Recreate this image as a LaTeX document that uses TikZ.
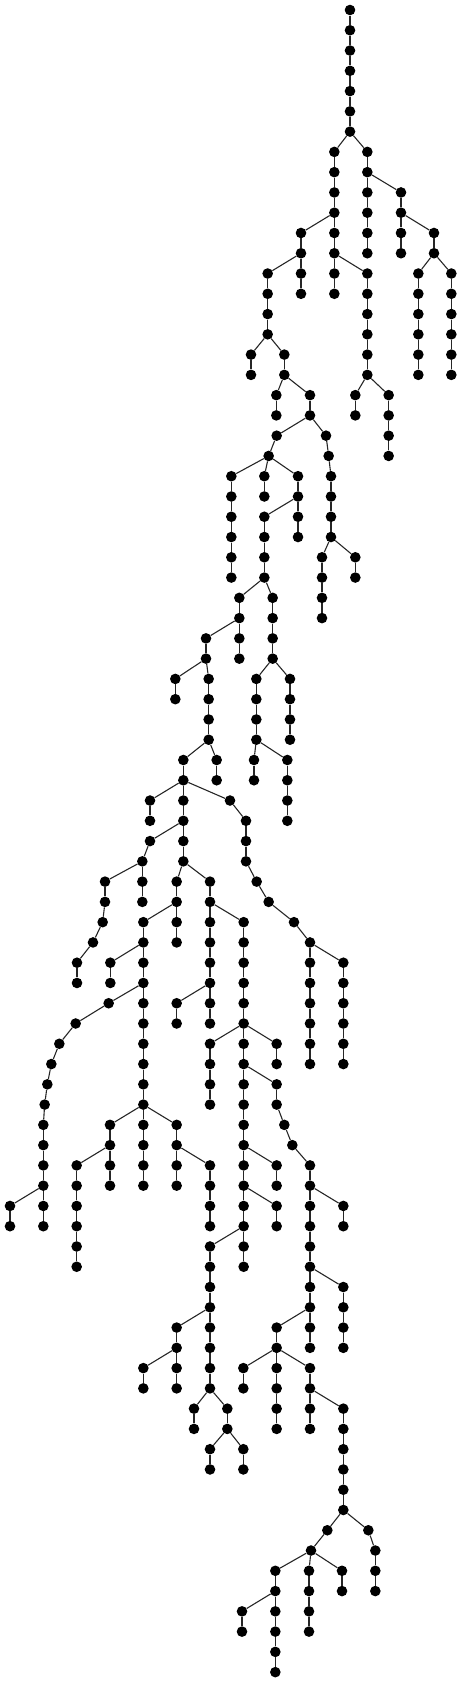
\documentclass[tikz,border=0pt]{standalone}
\tikzset{dot/.style={circle,fill=black,draw=none,inner sep=0pt,minimum size=10.6pt},
 edge/.style={line width=1.1pt,black!85}}
\newcommand\kid[4]{\node[dot] (n#1x#2) at ({#2/3},{10+20.27*#1}) {};\draw[edge] (n#3x#4) -- (n#1x#2);}
\begin{document}
\begin{tikzpicture}[x=1pt,y=-1pt]
\useasboundingbox (0,0) rectangle (462,1682);
\node[dot] (n0x1050) at ({1050/3},10) {};
\kid{1}{1050}{0}{1050}
\kid{2}{1050}{1}{1050}
\kid{3}{1050}{2}{1050}
\kid{4}{1050}{3}{1050}
\kid{5}{1050}{4}{1050}
\kid{6}{1050}{5}{1050}
\kid{7}{1003}{6}{1050}\kid{7}{1102}{6}{1050}
\kid{8}{1003}{7}{1003}\kid{8}{1102}{7}{1102}
\kid{9}{1003}{8}{1003}\kid{9}{1102}{8}{1102}\kid{9}{1203}{8}{1102}
\kid{10}{1003}{9}{1003}\kid{10}{1102}{9}{1102}\kid{10}{1203}{9}{1203}
\kid{11}{903}{10}{1003}\kid{11}{1003}{10}{1003}\kid{11}{1102}{10}{1102}\kid{11}{1203}{10}{1203}\kid{11}{1302}{10}{1203}
\kid{12}{903}{11}{903}\kid{12}{1003}{11}{1003}\kid{12}{1102}{11}{1102}\kid{12}{1203}{11}{1203}\kid{12}{1302}{11}{1302}
\kid{13}{803}{12}{903}\kid{13}{903}{12}{903}\kid{13}{1003}{12}{1003}\kid{13}{1102}{12}{1003}\kid{13}{1255}{12}{1302}\kid{13}{1354}{12}{1302}
\kid{14}{803}{13}{803}\kid{14}{903}{13}{903}\kid{14}{1003}{13}{1003}\kid{14}{1102}{13}{1102}\kid{14}{1255}{13}{1255}\kid{14}{1354}{13}{1354}
\kid{15}{803}{14}{803}\kid{15}{1102}{14}{1102}\kid{15}{1255}{14}{1255}\kid{15}{1354}{14}{1354}
\kid{16}{803}{15}{803}\kid{16}{1102}{15}{1102}\kid{16}{1255}{15}{1255}\kid{16}{1354}{15}{1354}
\kid{17}{753}{16}{803}\kid{17}{853}{16}{803}\kid{17}{1102}{16}{1102}\kid{17}{1255}{16}{1255}\kid{17}{1354}{16}{1354}
\kid{18}{753}{17}{753}\kid{18}{853}{17}{853}\kid{18}{1102}{17}{1102}\kid{18}{1255}{17}{1255}\kid{18}{1354}{17}{1354}
\kid{19}{829}{18}{853}\kid{19}{930}{18}{853}\kid{19}{1066}{18}{1102}\kid{19}{1166}{18}{1102}
\kid{20}{829}{19}{829}\kid{20}{930}{19}{930}\kid{20}{1066}{19}{1066}\kid{20}{1166}{19}{1166}
\kid{21}{830}{20}{930}\kid{21}{978}{20}{930}\kid{21}{1166}{20}{1166}
\kid{22}{806}{21}{830}\kid{22}{986}{21}{978}\kid{22}{1166}{21}{1166}
\kid{23}{694}{22}{806}\kid{23}{793}{22}{806}\kid{23}{894}{22}{806}\kid{23}{993}{22}{986}
\kid{24}{694}{23}{694}\kid{24}{793}{23}{793}\kid{24}{894}{23}{894}\kid{24}{993}{23}{993}
\kid{25}{694}{24}{694}\kid{25}{793}{24}{894}\kid{25}{894}{24}{894}\kid{25}{993}{24}{993}
\kid{26}{694}{25}{694}\kid{26}{793}{25}{793}\kid{26}{894}{25}{894}\kid{26}{993}{25}{993}
\kid{27}{694}{26}{694}\kid{27}{793}{26}{793}\kid{27}{966}{26}{993}\kid{27}{1066}{26}{993}
\kid{28}{694}{27}{694}\kid{28}{793}{27}{793}\kid{28}{966}{27}{966}\kid{28}{1066}{27}{1066}
\kid{29}{718}{28}{793}\kid{29}{818}{28}{793}\kid{29}{966}{28}{966}
\kid{30}{718}{29}{718}\kid{30}{818}{29}{818}\kid{30}{966}{29}{966}
\kid{31}{618}{30}{718}\kid{31}{718}{30}{718}\kid{31}{818}{30}{818}
\kid{32}{618}{31}{618}\kid{32}{718}{31}{718}\kid{32}{818}{31}{818}
\kid{33}{526}{32}{618}\kid{33}{626}{32}{618}\kid{33}{769}{32}{818}\kid{33}{870}{32}{818}
\kid{34}{526}{33}{526}\kid{34}{626}{33}{626}\kid{34}{769}{33}{769}\kid{34}{870}{33}{870}
\kid{35}{626}{34}{626}\kid{35}{769}{34}{769}\kid{35}{870}{34}{870}
\kid{36}{626}{35}{626}\kid{36}{769}{35}{769}\kid{36}{870}{35}{870}
\kid{37}{550}{36}{626}\kid{37}{650}{36}{626}\kid{37}{762}{36}{769}\kid{37}{862}{36}{769}
\kid{38}{550}{37}{550}\kid{38}{650}{37}{650}\kid{38}{762}{37}{762}\kid{38}{862}{37}{862}
\kid{39}{450}{38}{550}\kid{39}{550}{38}{550}\kid{39}{690}{38}{550}\kid{39}{862}{38}{862}
\kid{40}{450}{39}{450}\kid{40}{550}{39}{550}\kid{40}{738}{39}{690}\kid{40}{862}{39}{862}
\kid{41}{450}{40}{550}\kid{41}{550}{40}{550}\kid{41}{738}{40}{738}
\kid{42}{427}{41}{450}\kid{42}{550}{41}{550}\kid{42}{738}{41}{738}
\kid{43}{315}{42}{427}\kid{43}{427}{42}{427}\kid{43}{530}{42}{550}\kid{43}{630}{42}{550}\kid{43}{770}{42}{738}
\kid{44}{315}{43}{315}\kid{44}{427}{43}{427}\kid{44}{530}{43}{530}\kid{44}{630}{43}{630}\kid{44}{806}{43}{770}
\kid{45}{308}{44}{315}\kid{45}{430}{44}{530}\kid{45}{530}{44}{530}\kid{45}{630}{44}{630}\kid{45}{731}{44}{630}\kid{45}{882}{44}{806}
\kid{46}{279}{45}{308}\kid{46}{430}{45}{430}\kid{46}{530}{45}{530}\kid{46}{630}{45}{630}\kid{46}{731}{45}{731}\kid{46}{930}{45}{882}
\kid{47}{231}{46}{279}\kid{47}{331}{46}{430}\kid{47}{430}{46}{430}\kid{47}{630}{46}{630}\kid{47}{731}{46}{731}\kid{47}{930}{46}{930}\kid{47}{1030}{46}{930}
\kid{48}{231}{47}{231}\kid{48}{331}{47}{331}\kid{48}{430}{47}{430}\kid{48}{630}{47}{630}\kid{48}{731}{47}{731}\kid{48}{930}{47}{930}\kid{48}{1030}{47}{1030}
\kid{49}{326}{48}{430}\kid{49}{430}{48}{430}\kid{49}{530}{48}{630}\kid{49}{630}{48}{630}\kid{49}{731}{48}{731}\kid{49}{930}{48}{930}\kid{49}{1030}{48}{1030}
\kid{50}{227}{49}{326}\kid{50}{430}{49}{430}\kid{50}{530}{49}{530}\kid{50}{630}{49}{630}\kid{50}{731}{49}{731}\kid{50}{930}{49}{930}\kid{50}{1030}{49}{1030}
\kid{51}{178}{50}{227}\kid{51}{430}{50}{430}\kid{51}{630}{50}{731}\kid{51}{731}{50}{731}\kid{51}{830}{50}{731}\kid{51}{930}{50}{930}\kid{51}{1030}{50}{1030}
\kid{52}{154}{51}{178}\kid{52}{430}{51}{430}\kid{52}{630}{51}{630}\kid{52}{731}{51}{731}\kid{52}{830}{51}{830}\kid{52}{930}{51}{930}\kid{52}{1030}{51}{1030}
\kid{53}{142}{52}{154}\kid{53}{430}{52}{430}\kid{53}{630}{52}{630}\kid{53}{731}{52}{731}\kid{53}{830}{52}{731}
\kid{54}{134}{53}{142}\kid{54}{430}{53}{430}\kid{54}{630}{53}{630}\kid{54}{731}{53}{731}\kid{54}{830}{53}{830}
\kid{55}{130}{54}{134}\kid{55}{330}{54}{430}\kid{55}{430}{54}{430}\kid{55}{530}{54}{430}\kid{55}{731}{54}{731}\kid{55}{853}{54}{830}
\kid{56}{130}{55}{130}\kid{56}{330}{55}{330}\kid{56}{430}{55}{430}\kid{56}{530}{55}{530}\kid{56}{731}{55}{731}\kid{56}{877}{55}{853}
\kid{57}{130}{56}{130}\kid{57}{230}{56}{330}\kid{57}{330}{56}{330}\kid{57}{430}{56}{430}\kid{57}{530}{56}{530}\kid{57}{630}{56}{530}\kid{57}{731}{56}{731}\kid{57}{830}{56}{731}\kid{57}{930}{56}{877}
\kid{58}{130}{57}{130}\kid{58}{230}{57}{230}\kid{58}{330}{57}{330}\kid{58}{430}{57}{430}\kid{58}{530}{57}{530}\kid{58}{630}{57}{630}\kid{58}{731}{57}{731}\kid{58}{830}{57}{830}\kid{58}{930}{57}{930}
\kid{59}{30}{58}{130}\kid{59}{130}{58}{130}\kid{59}{230}{58}{230}\kid{59}{630}{58}{630}\kid{59}{731}{58}{731}\kid{59}{830}{58}{731}\kid{59}{930}{58}{930}\kid{59}{1030}{58}{930}
\kid{60}{30}{59}{30}\kid{60}{130}{59}{130}\kid{60}{230}{59}{230}\kid{60}{630}{59}{630}\kid{60}{731}{59}{731}\kid{60}{830}{59}{830}\kid{60}{930}{59}{930}\kid{60}{1030}{59}{1030}
\kid{61}{230}{60}{230}\kid{61}{630}{60}{731}\kid{61}{731}{60}{731}\kid{61}{930}{60}{930}
\kid{62}{230}{61}{230}\kid{62}{630}{61}{630}\kid{62}{731}{61}{731}\kid{62}{930}{61}{930}
\kid{63}{630}{62}{630}\kid{63}{930}{62}{930}\kid{63}{1030}{62}{930}
\kid{64}{630}{63}{630}\kid{64}{930}{63}{930}\kid{64}{1030}{63}{1030}
\kid{65}{530}{64}{630}\kid{65}{630}{64}{630}\kid{65}{830}{64}{930}\kid{65}{930}{64}{930}\kid{65}{1030}{64}{1030}
\kid{66}{530}{65}{530}\kid{66}{630}{65}{630}\kid{66}{830}{65}{830}\kid{66}{930}{65}{930}\kid{66}{1030}{65}{1030}
\kid{67}{430}{66}{530}\kid{67}{530}{66}{530}\kid{67}{630}{66}{630}\kid{67}{730}{66}{830}\kid{67}{830}{66}{830}\kid{67}{930}{66}{830}
\kid{68}{430}{67}{430}\kid{68}{530}{67}{530}\kid{68}{630}{67}{630}\kid{68}{730}{67}{730}\kid{68}{830}{67}{830}\kid{68}{930}{67}{930}
\kid{69}{582}{68}{630}\kid{69}{682}{68}{630}\kid{69}{830}{68}{830}\kid{69}{930}{68}{930}\kid{69}{1030}{68}{930}
\kid{70}{582}{69}{582}\kid{70}{682}{69}{682}\kid{70}{830}{69}{830}\kid{70}{930}{69}{930}\kid{70}{1030}{69}{1030}
\kid{71}{630}{70}{682}\kid{71}{730}{70}{682}\kid{71}{1030}{70}{1030}
\kid{72}{630}{71}{630}\kid{72}{730}{71}{730}\kid{72}{1030}{71}{1030}
\kid{73}{1030}{72}{1030}
\kid{74}{1030}{73}{1030}
\kid{75}{982}{74}{1030}\kid{75}{1105}{74}{1030}
\kid{76}{933}{75}{982}\kid{76}{1126}{75}{1105}
\kid{77}{826}{76}{933}\kid{77}{927}{76}{933}\kid{77}{1026}{76}{933}\kid{77}{1126}{76}{1126}
\kid{78}{826}{77}{826}\kid{78}{927}{77}{927}\kid{78}{1026}{77}{1026}\kid{78}{1126}{77}{1126}
\kid{79}{726}{78}{826}\kid{79}{826}{78}{826}\kid{79}{927}{78}{927}
\kid{80}{726}{79}{726}\kid{80}{826}{79}{826}\kid{80}{927}{79}{927}
\kid{81}{826}{80}{826}
\kid{82}{826}{81}{826}
\end{tikzpicture}
\end{document}
